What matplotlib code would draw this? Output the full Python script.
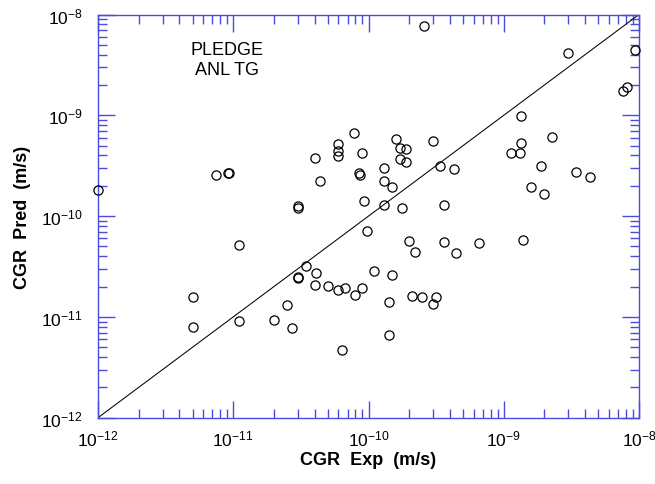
import matplotlib
matplotlib.use("Agg")
import matplotlib.pyplot as plt
import numpy as np
from matplotlib.ticker import LogLocator, FixedLocator, FixedFormatter, NullFormatter

plt.rcParams['font.family'] = ['Liberation Sans', 'DejaVu Sans']
plt.rcParams['mathtext.fontset'] = 'custom'
plt.rcParams['mathtext.rm'] = 'Liberation Sans'
plt.rcParams['mathtext.it'] = 'Liberation Sans'
plt.rcParams['mathtext.bf'] = 'Liberation Sans:bold'

cgr_exp = [
    1.0e-12, 7.5e-12, 9.1e-12, 9.3e-12, 3.0e-11, 3.0e-11, 4.05e-11, 4.4e-11,
    6.0e-11, 6.0e-11, 6.0e-11, 7.85e-11, 8.9e-11, 8.55e-11, 8.6e-11, 9.3e-11,
    2.59e-10, 2.97e-9, 9.4e-9, 7.6e-9, 8.2e-9, 1.34e-9, 2.26e-9, 1.34e-9,
    1.13e-9, 1.31e-9, 1.90e-9, 3.4e-9, 4.32e-9, 1.58e-9, 2.0e-9, 1.6e-10,
    1.7e-10, 1.9e-10, 1.7e-10, 1.9e-10, 3.0e-10, 1.3e-10, 1.3e-10, 1.5e-10,
    1.3e-10, 1.78e-10, 3.4e-10, 4.3e-10, 3.6e-10, 9.8e-11, 1.11e-11, 5.03e-12,
    5.03e-12, 1.11e-11, 2.01e-11, 2.5e-11, 2.74e-11, 3.0e-11, 3.0e-11, 3.43e-11,
    4.1e-11, 4.05e-11, 4.99e-11, 5.98e-11, 6.74e-11, 8.0e-11, 8.96e-11, 6.34e-11,
    2.0e-10, 2.2e-10, 3.6e-10, 4.46e-10, 6.56e-10, 1.39e-9, 1.1e-10, 1.5e-10,
    1.41e-10, 2.1e-10, 2.5e-10, 3.14e-10, 2.98e-10, 1.41e-10,
]
cgr_pred = [
    1.83e-10, 2.56e-10, 2.66e-10, 2.68e-10, 1.27e-10, 1.19e-10, 3.74e-10, 2.23e-10,
    5.15e-10, 4.42e-10, 3.92e-10, 6.63e-10, 4.26e-10, 2.68e-10, 2.56e-10, 1.40e-10,
    7.69e-9, 4.12e-9, 4.48e-9, 1.74e-9, 1.91e-9, 9.84e-10, 6.05e-10, 5.3e-10,
    4.2e-10, 4.26e-10, 3.12e-10, 2.72e-10, 2.43e-10, 1.93e-10, 1.64e-10, 5.82e-10,
    4.7e-10, 4.6e-10, 3.68e-10, 3.42e-10, 5.6e-10, 3.0e-10, 2.23e-10, 1.93e-10,
    1.28e-10, 1.2e-10, 3.12e-10, 2.93e-10, 1.30e-10, 7.16e-11, 5.2e-11, 1.56e-11,
    7.9e-12, 9.2e-12, 9.4e-12, 1.30e-11, 7.8e-12, 2.5e-11, 2.43e-11, 3.22e-11,
    2.74e-11, 2.06e-11, 2.03e-11, 1.85e-11, 1.94e-11, 1.65e-11, 1.92e-11, 4.73e-12,
    5.7e-11, 4.44e-11, 5.53e-11, 4.3e-11, 5.4e-11, 5.83e-11, 2.85e-11, 2.59e-11,
    1.40e-11, 1.6e-11, 1.59e-11, 1.59e-11, 1.33e-11, 6.6e-12,
]
line_x = [1e-12, 1e-8]
line_y = [1e-12, 1e-8]
tick_vals = [1e-12, 1e-11, 1e-10, 1e-9, 1e-8]
tick_labels = [r'$10^{-12}$', r'$10^{-11}$', r'$10^{-10}$', r'$10^{-9}$', r'$10^{-8}$']
annot = 'PLEDGE\nANL TG'
xlabel = 'CGR  Exp  (m/s)'
ylabel = 'CGR  Pred  (m/s)'

blue = '#4c4cdc'

fig = plt.figure(figsize=(6.55, 4.85), dpi=100)
ax = fig.add_axes([98/655, 1-418.7/485, (639-98)/655, (418.7-15.5)/485])
ax.set_xscale('log')
ax.set_yscale('log')
ax.set_xlim(1e-12, 1e-8)
ax.set_ylim(1e-12, 1e-8)

ax.plot(line_x, line_y, color='black', lw=0.75, zorder=2)
ax.plot(cgr_exp, cgr_pred, linestyle='none', marker='o', ms=6.6, mfc='none',
        mec='black', mew=0.9, zorder=3, clip_on=False)

for axis in (ax.xaxis, ax.yaxis):
    axis.set_major_locator(FixedLocator(tick_vals))
    axis.set_major_formatter(FixedFormatter(tick_labels))
    axis.set_minor_locator(LogLocator(base=10, subs=np.arange(2, 10)))
    axis.set_minor_formatter(NullFormatter())

ax.tick_params(which='both', direction='in', top=True, right=True,
               color=blue, width=1.0)
ax.tick_params(which='major', length=12.5, labelsize=12.5, pad=7.5)
ax.tick_params(which='minor', length=6.3)
ax.tick_params(axis='y', which='major', pad=11)
for s in ax.spines.values():
    s.set_color(blue)
    s.set_linewidth(1.0)

ax.set_xlabel(xlabel, fontsize=13, fontweight='bold', labelpad=2)
ax.set_ylabel(ylabel, fontsize=13, fontweight='bold', labelpad=7.5)

ax.text(226.7/655, 1-60.5/485, annot, transform=fig.transFigure, ha='center',
        va='center', fontsize=13, linespacing=1.3)

fig.savefig('out.png', dpi=100)
